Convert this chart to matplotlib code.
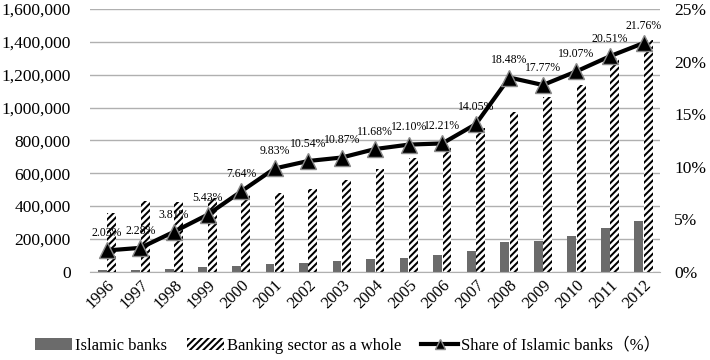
import matplotlib
matplotlib.use("Agg")
import matplotlib.pyplot as plt
import matplotlib.patches as mpatches
import matplotlib.ticker as mtick
from matplotlib.lines import Line2D
import numpy as np

plt.rcParams['font.family'] = ['Liberation Serif', 'Noto Sans CJK JP', 'DejaVu Sans']
plt.rcParams['hatch.linewidth'] = 1.45

years = [str(y) for y in range(1996, 2013)]
islamic = [8000, 12000, 20000, 30000, 36000, 47000, 55000, 63000, 75000,
           85000, 101000, 124000, 180000, 190000, 219000, 267000, 308000]
sector = [359000, 434000, 427000, 450000, 470000, 482000, 506000, 557000, 624000,
          694000, 760000, 877000, 974000, 1063000, 1140000, 1302000, 1413000]
share = [2.03, 2.28, 3.81, 5.43, 7.64, 9.83, 10.54, 10.87, 11.68,
         12.10, 12.21, 14.05, 18.48, 17.77, 19.07, 20.51, 21.76]

GRAY = "#6b6b6b"
HATCH = "/////"

fig = plt.figure(figsize=(7.1, 3.6), dpi=100)
ax = fig.add_axes([0.127, 0.245, 0.803, 0.73])
ax2 = ax.twinx()

x = np.arange(len(years))
w = 0.26
ax.bar(x - w / 2 - 0.01, islamic, width=w, color=GRAY, zorder=2)
ax.bar(x + w / 2 + 0.01, sector, width=w, color="white", edgecolor="black",
       hatch=HATCH, linewidth=0, zorder=2)

ax.set_ylim(0, 1600000)
ax.set_yticks(np.arange(0, 1600001, 200000))
ax.yaxis.set_major_formatter(mtick.FuncFormatter(lambda v, p: f"{int(v):,}"))
ax.grid(axis="y", color="#b0b0b0", linewidth=1.0)
ax.set_axisbelow(True)
ax.set_xlim(-0.5, len(years) - 0.5)
ax.set_xticks(x)
ax.set_xticklabels(years, rotation=45, ha="right", rotation_mode="anchor", fontsize=12)
ax.tick_params(axis="y", labelsize=12.5, length=0, pad=14)
ax.tick_params(axis="x", length=0, pad=4)

ax2.plot(x, share, color="black", linewidth=3, marker="^", markersize=11,
         markerfacecolor="black", markeredgecolor="#888888", markeredgewidth=1, zorder=3)
for xi, s in zip(x, share):
    ax2.annotate(f"{s:.2f}%", (xi, s), xytext=(0, 8), textcoords="offset points",
                 ha="center", va="bottom", fontsize=8.5)
ax2.set_ylim(0, 25)
ax2.set_yticks(np.arange(0, 26, 5))
ax2.yaxis.set_major_formatter(mtick.FuncFormatter(lambda v, p: f"{int(v)}%"))
ax2.tick_params(axis="y", labelsize=12.5, length=0, pad=10)

for a in (ax, ax2):
    for sp in a.spines.values():
        sp.set_visible(False)
ax.spines["bottom"].set_visible(True)
ax.spines["bottom"].set_color("#b0b0b0")

handles = [
    mpatches.Patch(facecolor=GRAY, label="Islamic banks"),
    mpatches.Patch(facecolor="white", edgecolor="black", hatch=HATCH, linewidth=0,
                   label="Banking sector as a whole"),
    Line2D([0], [0], color="black", linewidth=3, marker="^", markersize=7,
           markerfacecolor="black", markeredgecolor="#888888",
           label="Share of Islamic banks（%）"),
]
fig.legend(handles=handles, loc="center", bbox_to_anchor=(0.49, 0.04), ncol=3,
           frameon=False, fontsize=12, handlelength=2.2, handletextpad=0.2,
           columnspacing=1.2)

fig.savefig("out.png", dpi=100, facecolor="white")
